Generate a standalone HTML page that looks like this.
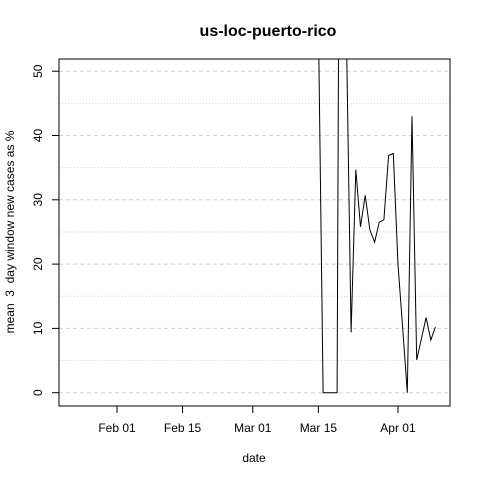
<!DOCTYPE html>
<html><head><meta charset="utf-8"><style>
body{margin:0;background:#fff;}
svg text{font-family:"Liberation Sans",sans-serif;fill:#000;}
</style></head><body>
<svg id="chart" width="480" height="480" viewBox="0 0 480 480">
<rect width="480" height="480" fill="#fff"/>
<text x="268" y="36" font-size="16" font-weight="bold" text-anchor="middle">us-loc-puerto-rico</text>
<text x="254" y="462" font-size="12" text-anchor="middle">date</text>
<text transform="translate(14,232) rotate(-90)" font-size="12" text-anchor="middle" style="white-space:pre" xml:space="preserve">mean  3  day window new cases as %</text>
<g id="grid"></g>
<g id="axes"></g>
<defs><clipPath id="clip"><rect x="59" y="59" width="391" height="347"/></clipPath></defs>
<g clip-path="url(#clip)"><path id="series" fill="none" stroke="#000" stroke-width="1"/></g>
<rect x="59" y="59" width="391" height="347" fill="none" stroke="#000"/>
</svg>
<script>
// day-of-year (Jan 1 = 0) for each point, 2020
const days = [74,75,76,77,78,79,80,81,82,83,84,85,86,87,88,89,90,91,92,93,94,95,96,97,98,99];
const values = [58,0,0,0,0,176,55,9.4,34.7,25.8,30.7,25.3,23.4,26.5,26.9,36.9,37.2,19.9,10,0,43,5.1,8.4,11.7,8.2,10.2];
const yTicks = [0,10,20,30,40,50];
const yMinor = [5,15,25,35,45];
const xTickDays = [31,45,60,74,91];
const xTickLabels = ["Feb 01","Feb 15","Mar 01","Mar 15","Apr 01"];

const ns="http://www.w3.org/2000/svg";
const xs = d => 117 + (d-31)*4.683;
const ys = v => 392.7 - v*6.43;
function mk(tag, attrs, parent){const e=document.createElementNS(ns,tag);for(const k in attrs)e.setAttribute(k,attrs[k]);parent.appendChild(e);return e;}
const grid=document.getElementById('grid'), axes=document.getElementById('axes');
yTicks.forEach(v=>{
  const l=mk('line',{x1:59,x2:450,y1:ys(v),y2:ys(v),stroke:'#d3d3d3','stroke-dasharray':'4,3'},grid);
  
  
  const t=mk('line',{x1:52,x2:59,y1:ys(v),y2:ys(v),stroke:'#000'},axes);
  
  
  const tx=mk('text',{transform:`translate(42,${ys(v)}) rotate(-90)`,'font-size':12,'text-anchor':'middle'},axes);
  tx.textContent=v;
  
  
});
yMinor.forEach(v=>{
  const l=mk('line',{x1:59,x2:450,y1:ys(v),y2:ys(v),stroke:'#d3d3d3','stroke-dasharray':'1,2'},grid);
  
  
});
xTickDays.forEach((d,i)=>{
  const t=mk('line',{x1:xs(d),x2:xs(d),y1:406,y2:413,stroke:'#000'},axes);
  
  
  const tx=mk('text',{x:xs(d),y:432,'font-size':12,'text-anchor':'middle'},axes);
  tx.textContent=xTickLabels[i];
  
  
});
document.getElementById('series').setAttribute('d', days.map((d,i)=>(i?'L':'M')+xs(d).toFixed(1)+','+ys(values[i]).toFixed(1)).join(''));
</script>
</body></html>
